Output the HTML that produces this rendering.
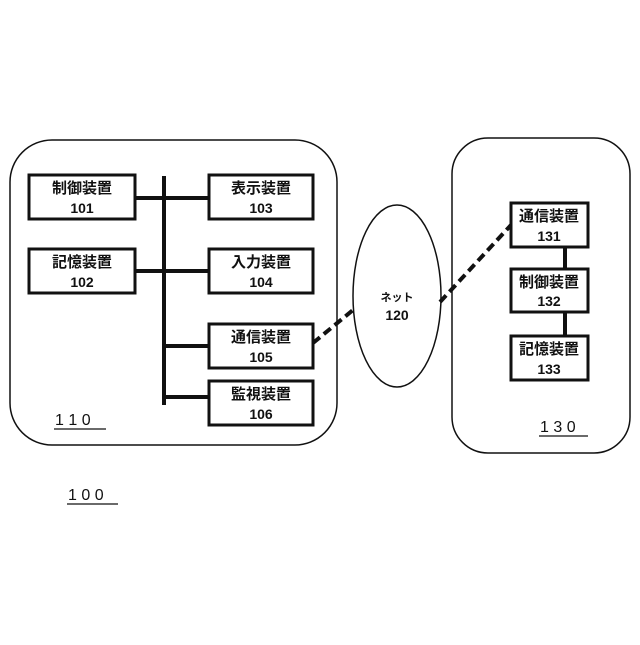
<!DOCTYPE html>
<html><head><meta charset="utf-8"><style>
body{margin:0;background:#fff}
svg text{font-family:"Liberation Sans","Noto Sans CJK JP",sans-serif;font-weight:bold;fill:#111}
</style></head><body>
<svg width="640" height="640" viewBox="0 0 640 640" xmlns="http://www.w3.org/2000/svg">
<rect width="640" height="640" fill="#fff"/>
<g fill="none" stroke="#111" stroke-width="1.5">
<rect x="10" y="140" width="327" height="305" rx="42"/>
<rect x="452" y="138" width="178" height="315" rx="36"/>
<ellipse cx="397" cy="296" rx="44" ry="91"/>
</g>
<g stroke="#111" stroke-width="4">
<line x1="164" y1="176" x2="164" y2="405"/>
<line x1="135" y1="198" x2="209" y2="198"/>
<line x1="135" y1="271" x2="209" y2="271"/>
<line x1="164" y1="346" x2="209" y2="346"/>
<line x1="164" y1="397" x2="209" y2="397"/>
<line x1="565" y1="247" x2="565" y2="269"/>
<line x1="565" y1="312" x2="565" y2="336"/>
</g>
<g stroke="#111" stroke-width="4" stroke-dasharray="9,5">
<line x1="313" y1="343" x2="353" y2="310"/>
<line x1="440" y1="302" x2="511" y2="225"/>
</g>
<g fill="#fff" stroke="#111" stroke-width="3">
<rect x="29" y="175" width="106" height="44"/>
<rect x="29" y="249" width="106" height="44"/>
<rect x="209" y="175" width="104" height="44"/>
<rect x="209" y="249" width="104" height="44"/>
<rect x="209" y="324" width="104" height="44"/>
<rect x="209" y="381" width="104" height="44"/>
<rect x="511" y="203" width="77" height="44"/>
<rect x="511" y="269" width="77" height="43"/>
<rect x="511" y="336" width="77" height="44"/>
</g>
<g font-size="15" text-anchor="middle">
<text x="82" y="193">制御装置</text><text x="82" y="213" font-size="14">101</text>
<text x="82" y="267">記憶装置</text><text x="82" y="287" font-size="14">102</text>
<text x="261" y="193">表示装置</text><text x="261" y="213" font-size="14">103</text>
<text x="261" y="267">入力装置</text><text x="261" y="287" font-size="14">104</text>
<text x="261" y="342">通信装置</text><text x="261" y="362" font-size="14">105</text>
<text x="261" y="399">監視装置</text><text x="261" y="419" font-size="14">106</text>
<text x="549" y="221">通信装置</text><text x="549" y="241" font-size="14">131</text>
<text x="549" y="287">制御装置</text><text x="549" y="306" font-size="14">132</text>
<text x="549" y="354">記憶装置</text><text x="549" y="374" font-size="14">133</text>
<text x="397" y="301" font-size="11" font-weight="normal">ネット</text>
<text x="397" y="320" font-size="14">120</text>
</g>
<g font-size="16" font-weight="normal">
<text x="55" y="425" style="font-weight:normal">1 1 0</text>
<text x="540" y="432" style="font-weight:normal">1 3 0</text>
<text x="68" y="500" style="font-weight:normal">1 0 0</text>
</g>
<g stroke="#111" stroke-width="1.2">
<line x1="54" y1="429" x2="106" y2="429"/>
<line x1="539" y1="436" x2="588" y2="436"/>
<line x1="67" y1="504" x2="118" y2="504"/>
</g>
</svg>
</body></html>
